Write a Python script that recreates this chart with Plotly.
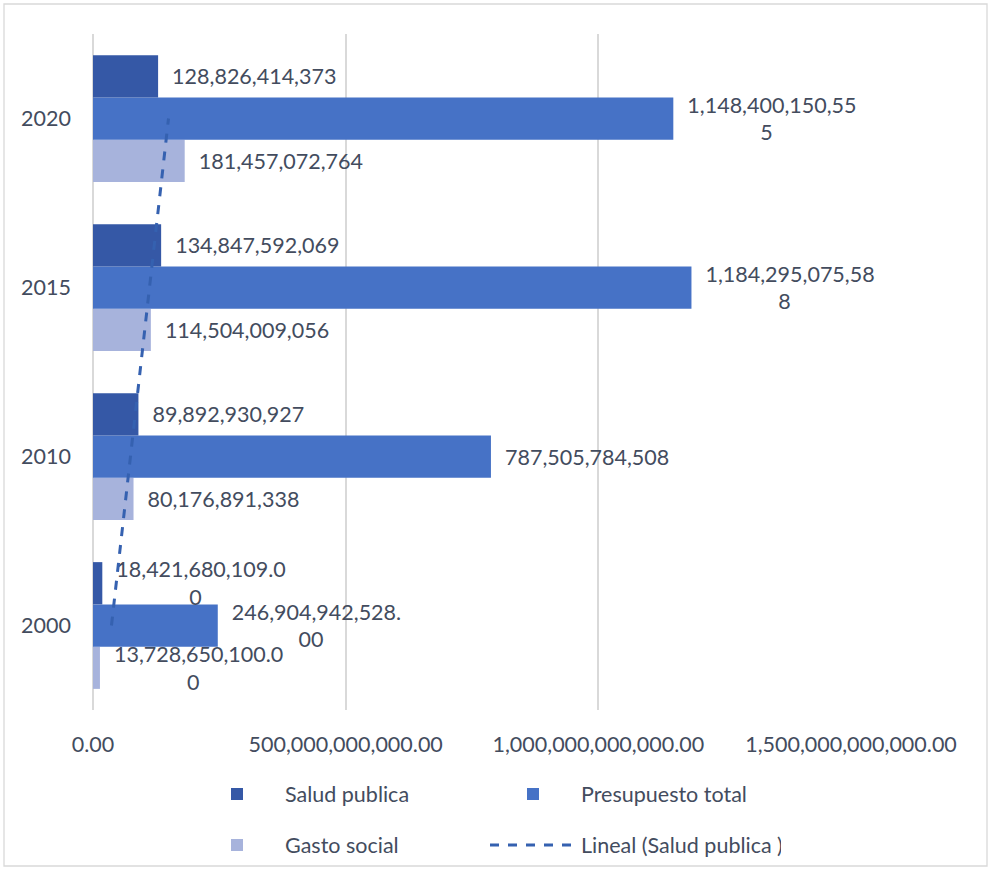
import numpy as np
import plotly.graph_objects as go

# ---------------- data ----------------
years = ["2000", "2010", "2015", "2020"]
salud_publica = [18421680109.00, 89892930927, 134847592069, 128826414373]
presupuesto_total = [246904942528.00, 787505784508, 1184295075588, 1148400150555]
gasto_social = [13728650100.00, 80176891338, 114504009056, 181457072764]
label_decimals = [2, 0, 0, 0]
x_tick_values = [0, 500e9, 1000e9, 1500e9]
x_tick_labels = ["0.00", "500,000,000,000.00", "1,000,000,000,000.00", "1,500,000,000,000.00"]

# ---------------- style ----------------
W, H = 990, 870
ML, MR, MT, MB = 93, 139, 34, 160
PW, PH = W - ML - MR, H - MT - MB
FONT = "Lato"
FS = 21.5
TXT = "#434C5E"
C_SALUD = "#3558A6"
C_PRES = "#4672C6"
C_GASTO = "#A7B3DC"
C_TREND = "#3561B0"
GRID = "#D9D9D9"
WRAP = 16
GAP = "\u00a0\u00a0"


def labels(values):
    out = []
    for v, d in zip(values, label_decimals):
        s = f"{v:,.{d}f}"
        if len(s) > WRAP:
            s = s[:WRAP] + "<br>" + s[WRAP:]
        out.append(GAP + s)
    return out


def bar(name, vals, color, legend, rank):
    return go.Bar(
        name=name, y=years, x=vals, orientation="h",
        marker=dict(color=color, line=dict(width=0)),
        text=labels(vals), textposition="outside", constraintext="none",
        cliponaxis=False, textfont=dict(family=FONT, size=FS, color=TXT),
        legend=legend, legendrank=rank, hoverinfo="skip",
    )


fig = go.Figure()
fig.add_trace(bar("Gasto social", gasto_social, C_GASTO, "legend2", 1))
fig.add_trace(bar("Presupuesto total", presupuesto_total, C_PRES, "legend", 2))
fig.add_trace(bar("Salud publica", salud_publica, C_SALUD, "legend", 1))

# linear trend of Salud publica over category index
idx = np.arange(1, len(years) + 1)
slope, intercept = np.polyfit(idx, np.array(salud_publica, dtype=float), 1)
trend = slope * idx + intercept
fig.add_trace(go.Scatter(
    name="Lineal (Salud publica )", y=years, x=trend, mode="lines",
    line=dict(color=C_TREND, width=3, dash="dash"),
    legend="legend2", legendrank=2, hoverinfo="skip",
))


def px_to_paper_x(px):
    return (px - ML) / PW


def px_to_paper_y(py):
    return (H - MB - py) / PH


ITEMW = 86
legend_common = dict(
    orientation="h", xanchor="left", yanchor="middle",
    xref="container", yref="container",
    font=dict(family=FONT, size=FS, color=TXT),
    entrywidth=195, entrywidthmode="pixels", itemwidth=ITEMW,
    bgcolor="rgba(0,0,0,0)", traceorder="normal",
)

fig.update_layout(
    width=W, height=H,
    margin=dict(l=ML, r=MR, t=MT, b=MB, pad=0, autoexpand=False),
    paper_bgcolor="white", plot_bgcolor="white",
    barmode="group", bargap=0.25, bargroupgap=0,
    font=dict(family=FONT, size=FS, color=TXT),
    xaxis=dict(
        range=[0, 1500e9], tickvals=x_tick_values, ticktext=x_tick_labels,
        showgrid=True, gridcolor=GRID, gridwidth=1.5,
        zeroline=True, zerolinecolor=GRID, zerolinewidth=1.5,
        showline=False, ticks="", ticklabelstandoff=19,
        tickfont=dict(family=FONT, size=FS, color=TXT),
    ),
    yaxis=dict(
        type="category", categoryorder="array", categoryarray=years,
        showgrid=False, zeroline=False, showline=False, ticks="",
        ticklabelstandoff=21, tickfont=dict(family=FONT, size=FS, color=TXT),
    ),
    legend=dict(x=189 / W, y=1 - 794 / H, **legend_common),
    legend2=dict(x=189 / W, y=1 - 845 / H, **legend_common),
    showlegend=True,
    shapes=[dict(
        type="rect", xref="paper", yref="paper",
        x0=px_to_paper_x(4), x1=px_to_paper_x(987),
        y0=px_to_paper_y(866), y1=px_to_paper_y(4),
        line=dict(color=GRID, width=1.3), fillcolor="rgba(0,0,0,0)", layer="below",
    )],
)

fig.write_html("out.html")
